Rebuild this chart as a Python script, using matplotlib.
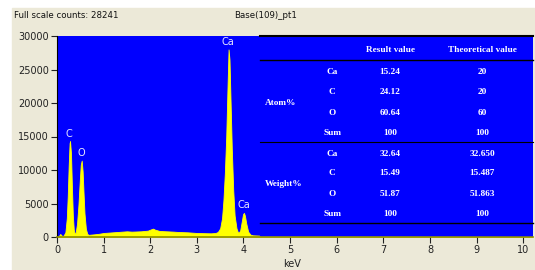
import matplotlib.pyplot as plt
from matplotlib.patches import Rectangle

# spectrum (keV, counts)
kev = [0.0, 0.04, 0.07, 0.09, 0.11, 0.14, 0.18, 0.21, 0.23, 0.25, 0.27, 0.28, 0.30,
       0.32, 0.34, 0.36, 0.38, 0.40, 0.43, 0.46, 0.49, 0.51, 0.53, 0.55, 0.57, 0.59,
       0.62, 0.65, 0.68, 0.72, 0.8, 0.9, 1.0, 1.3, 1.4, 1.5, 1.6, 1.8, 1.95,
       2.02, 2.06, 2.1, 2.2, 2.5, 2.6, 2.8, 3.0, 3.3, 3.4, 3.45, 3.5, 3.54, 3.57,
       3.60, 3.63, 3.66, 3.68, 3.70, 3.72, 3.75, 3.78, 3.81, 3.85, 3.88, 3.9, 3.93,
       3.96, 3.99, 4.01, 4.03, 4.06, 4.1, 4.15, 4.2, 4.4, 5.0, 6.0, 7.0, 8.0, 9.0, 10.2]
counts = [0, 150, 450, 300, 150, 200, 700, 2800, 6000, 10500, 14000, 14300, 12500,
          7500, 3200, 1100, 500, 600, 2000, 4800, 8600, 10800, 11400, 9800, 6500, 3500,
          1200, 450, 320, 350, 400, 480, 600, 750, 800, 850, 800, 850, 950,
          1150, 1250, 1100, 900, 800, 750, 700, 600, 550, 600, 750, 1300, 2800, 5500,
          9500, 15000, 23000, 28000, 26500, 21000, 13000, 7000, 3200, 1300, 700, 650, 1000,
          2200, 3400, 3600, 3200, 2000, 800, 350, 250, 200, 180, 150, 140, 120, 100, 80]

peak_names = ['C', 'O', 'Ca', 'Ca']
peak_x = [0.26, 0.52, 3.67, 4.0]
peak_y = [15400, 12500, 29100, 4800]

header = ['Result value', 'Theoretical value']
groups = ['Atom%', 'Weight%']
elements = ['Ca', 'C', 'O', 'Sum']
atom_result = ['15.24', '24.12', '60.64', '100']
atom_theory = ['20', '20', '60', '100']
weight_result = ['32.64', '15.49', '51.87', '100']
weight_theory = ['32.650', '15.487', '51.863', '100']

bg = '#ECE9D8'
fig = plt.figure(figsize=(5.35, 2.7), dpi=100, facecolor='white')
fig.add_artist(Rectangle((12/535, 0), 1, 1 - 8/270, transform=fig.transFigure,
                         color=bg, zorder=-10))

ax = fig.add_axes([57/535, 33/270, 476/535, 201/270])
ax.set_facecolor('#0000FF')
ax.fill_between(kev, counts, color='#FFFF00', lw=0.6, edgecolor='#FFFF00')
ax.set_xlim(0, 10.21)
ax.set_ylim(0, 30000)
ax.set_xticks(range(0, 11))
ax.set_yticks(range(0, 30001, 5000))
ax.tick_params(labelsize=7, length=4, width=0.8, colors='#222222', pad=2)
for s in ['top', 'right']:
    ax.spines[s].set_visible(False)
ax.spines['left'].set_color('black')
ax.spines['bottom'].set_color('#8C8C00')
ax.spines['bottom'].set_linewidth(1.2)

for n, x, y in zip(peak_names, peak_x, peak_y):
    ax.text(x, y, n, color='#E8E8FF', fontsize=7, ha='center', va='center')

# result table on top of the spectrum
tx0 = 0.4265
ax.add_patch(Rectangle((tx0, 0.01), 1 - tx0, 0.99, transform=ax.transAxes,
                       color='#0000FF', zorder=3))
for yy, lw in [(1.0, 1.5), (0.8806, 1.0), (0.4726, 0.8), (0.0697, 1.0)]:
    ax.plot([tx0, 1], [yy, yy], transform=ax.transAxes, color='black', lw=lw,
            zorder=4, clip_on=False)

tfont = dict(family='Liberation Serif', weight='bold', color='white', fontsize=6.7,
             zorder=5, transform=ax.transAxes, va='center')
ax.text(0.700, 0.930, header[0], ha='center', **tfont)
ax.text(0.893, 0.930, header[1], ha='center', **tfont)
ax.text(0.437, 0.667, groups[0], ha='left', **tfont)
ax.text(0.437, 0.264, groups[1], ha='left', **tfont)
rows_a = [0.821, 0.721, 0.618, 0.517]
rows_w = [0.414, 0.318, 0.214, 0.114]
for i, e in enumerate(elements):
    ax.text(0.578, rows_a[i], e, ha='center', **tfont)
    ax.text(0.700, rows_a[i], atom_result[i], ha='center', **tfont)
    ax.text(0.893, rows_a[i], atom_theory[i], ha='center', **tfont)
    ax.text(0.578, rows_w[i], e, ha='center', **tfont)
    ax.text(0.700, rows_w[i], weight_result[i], ha='center', **tfont)
    ax.text(0.893, rows_w[i], weight_theory[i], ha='center', **tfont)

fig.text(14/535, 1 - 16/270, 'Full scale counts: 28241', fontsize=6.2, va='center',
         color='#111111')
fig.text(266/535, 1 - 16/270, 'Base(109)_pt1', fontsize=6.2, va='center', ha='center',
         color='#111111')
fig.text(292/535, 1 - 264/270, 'keV', fontsize=7, va='center', ha='center',
         color='#222222')

fig.savefig('out.png', dpi=100, facecolor=fig.get_facecolor())
